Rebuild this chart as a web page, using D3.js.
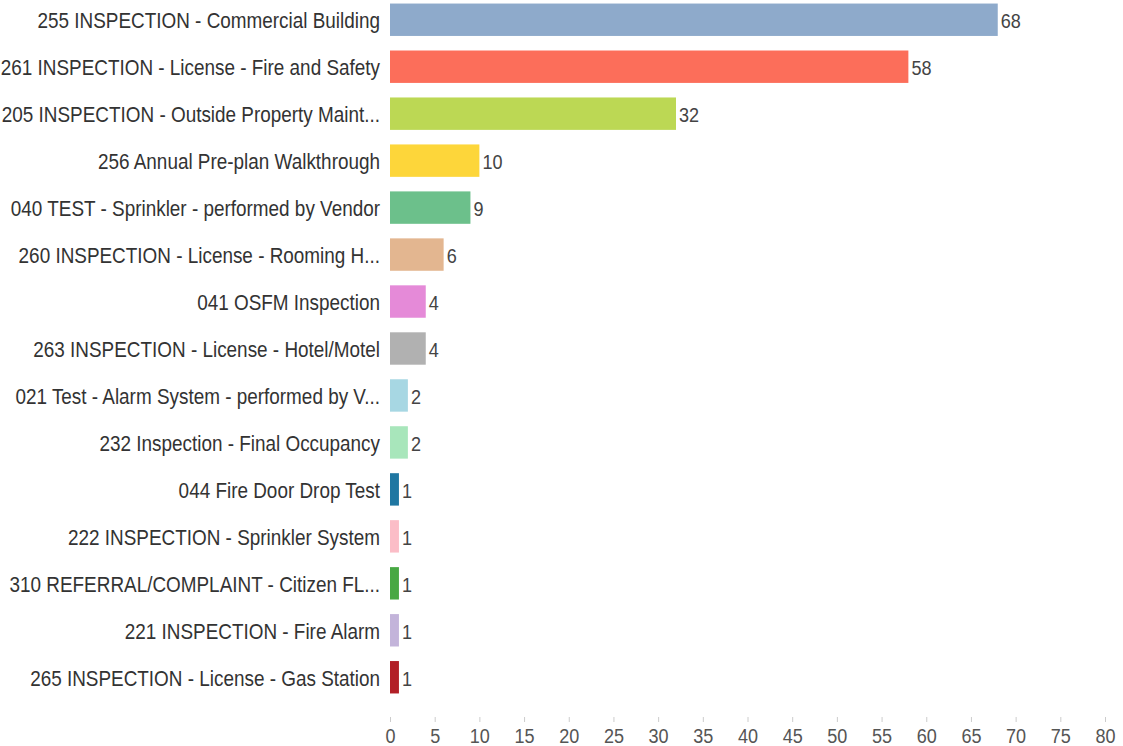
<!DOCTYPE html>
<html>
<head>
<meta charset="utf-8">
<script src="https://cdn.jsdelivr.net/npm/d3@7"></script>
<style>
  body { margin: 0; background: #fff; }
  text { font-family: "Liberation Sans Narrow", "Liberation Sans", Arial, sans-serif; }
</style>
</head>
<body>
<script>
// inspection types, counts and bar colours
var categories = [
    "255 INSPECTION - Commercial Building",
    "261 INSPECTION - License - Fire and Safety",
    "205 INSPECTION - Outside Property Maint...",
    "256 Annual Pre-plan Walkthrough",
    "040 TEST - Sprinkler - performed by Vendor",
    "260 INSPECTION - License - Rooming H...",
    "041 OSFM Inspection",
    "263 INSPECTION - License - Hotel/Motel",
    "021 Test - Alarm System - performed by V...",
    "232 Inspection - Final Occupancy",
    "044 Fire Door Drop Test",
    "222 INSPECTION - Sprinkler System",
    "310 REFERRAL/COMPLAINT - Citizen FL...",
    "221 INSPECTION - Fire Alarm",
    "265 INSPECTION - License - Gas Station"
];
var counts = [68, 58, 32, 10, 9, 6, 4, 4, 2, 2, 1, 1, 1, 1, 1];
var colors = ["#8eaacb", "#fc6e5a", "#bcd854", "#fdd63a", "#6cc08b", "#e3b690",
              "#e58ad8", "#b1b1b1", "#a7d7e3", "#a8e6bb", "#1f77a2", "#fbbdc7",
              "#48a843", "#c3b4da", "#b21f27"];
var xTicks = d3.range(0, 85, 5);

var width = 1123, height = 746;
var squeeze = 0.86; // fake a narrow font

var svg = d3.select("body").append("svg")
    .attr("width", width)
    .attr("height", height);

var x = d3.scaleLinear().domain([0, 80]).range([390, 1105]);
var y = d3.scaleBand().domain(categories).range([-3.5, 700.5]).paddingInner(0.31).paddingOuter(0.15);

// Bars
svg.selectAll("rect.bar")
    .data(counts)
    .enter().append("rect")
    .attr("class", "bar")
    .attr("x", x(0))
    .attr("y", function(d, i) { return y(categories[i]); })
    .attr("width", function(d) { return x(d) - x(0); })
    .attr("height", y.bandwidth())
    .style("fill", function(d, i) { return colors[i]; });

// Value labels
svg.selectAll("text.value")
    .data(counts)
    .enter().append("text")
    .attr("class", "value")
    .attr("transform", function(d, i) {
        return "translate(" + (x(d) + 3) + "," + (y(categories[i]) + y.bandwidth() / 2 + 1) + ") scale(" + squeeze + ",1)";
    })
    .attr("dy", "0.35em")
    .style("font-size", "21px")
    .style("fill", "#444")
    .text(function(d) { return d; });

// Category labels
svg.selectAll("text.cat")
    .data(categories)
    .enter().append("text")
    .attr("class", "cat")
    .attr("transform", function(d) {
        return "translate(380," + (y(d) + y.bandwidth() / 2 + 1) + ") scale(" + squeeze + ",1)";
    })
    .attr("dy", "0.35em")
    .attr("text-anchor", "end")
    .style("font-size", "22px")
    .style("fill", "#333")
    .text(function(d) { return d; });

// X axis
var xAxis = d3.axisBottom(x).tickValues(xTicks).tickSize(5).tickPadding(6);
var gx = svg.append("g")
    .attr("transform", "translate(0,717)")
    .call(xAxis);
gx.select(".domain").remove();
gx.selectAll(".tick line").style("stroke", "#ccc");
gx.selectAll(".tick text")
    .attr("transform", "scale(" + squeeze + ",1)")
    .style("font-size", "21px")
    .style("font-family", "\"Liberation Sans Narrow\", \"Liberation Sans\", sans-serif")
    .style("fill", "#555");
</script>
</body>
</html>
